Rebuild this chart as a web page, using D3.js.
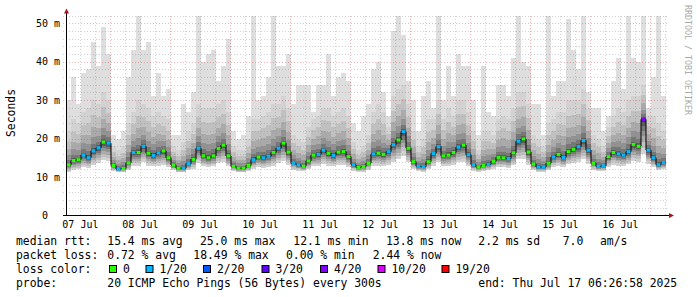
<!DOCTYPE html>
<meta charset="utf-8">
<style>
body { margin: 0; background: #fff; }
svg { display: block; font-family: "DejaVu Sans Mono", monospace; }
.legend text { font-size: 11.4px; fill: #000; }
</style>
<body>
<svg id="chart" width="697" height="297"></svg>
<script src="https://cdn.jsdelivr.net/npm/d3@7/dist/d3.min.js"></script>
<script>
// 2 hour bins over the last 10 days, ending Thu Jul 17 06:26:58 2025
var med = [13.2,14.3,14.5,15.7,15.0,16.8,17.6,19.1,18.8,13.0,
  12.1,12.2,13.7,16.4,16.4,18.0,16.2,15.6,16.3,16.8,
  15.0,13.1,12.3,12.3,13.5,14.6,17.5,15.5,15.0,15.5,
  17.4,18.3,15.5,12.8,12.3,12.3,13.0,14.5,15.2,15.0,
  15.4,16.4,17.5,18.8,16.5,13.6,13.2,12.8,14.2,15.7,
  15.9,17.0,16.2,15.6,16.5,16.6,15.3,13.2,12.5,12.7,
  13.6,16.0,16.2,15.9,16.6,18.4,19.6,21.8,17.5,14.0,
  12.8,12.7,14.0,16.1,17.9,15.5,15.7,16.4,17.8,18.3,
  15.8,13.2,12.6,13.0,13.3,14.1,15.1,15.0,14.8,16.3,
  19.3,19.9,16.5,13.4,12.6,12.6,13.6,15.2,15.9,15.1,
  16.6,17.2,17.9,19.5,17.0,13.6,12.8,12.9,15.3,16.4,
  16.0,15.7,16.6,18.5,18.0,25.0,17.0,15.0,13.2,13.8];

// index into lossColors
var loss = [0,0,0,1,1,1,1,0,1,0, 1,0,0,1,0,1,0,1,1,0,
  0,0,0,1,1,0,1,0,0,0, 0,0,0,0,0,0,0,1,0,1,
  1,0,1,0,0,1,1,0,0,0, 1,1,0,1,0,0,0,1,0,0,
  0,1,0,0,1,1,0,1,0,0, 1,1,0,1,1,0,0,0,1,0,
  1,1,0,0,1,0,0,0,1,0, 1,0,0,0,1,1,0,1,0,1,
  0,0,1,1,1,0,1,1,0,0, 1,1,1,0,0,4,1,1,1,1];

// lowest ping of each bin
var lo = [11.3,11.8,12.0,12.6,12.4,13.2,13.6,14.4,14.2,11.6,
  11.2,11.2,11.8,13.0,13.0,13.8,13.0,12.8,13.0,13.2,
  12.6,11.8,11.2,11.2,11.8,12.2,13.6,12.8,12.6,12.8,
  13.6,14.0,12.8,11.6,11.2,11.2,11.6,12.2,12.6,12.4,
  12.6,13.0,13.6,14.2,13.2,11.9,11.7,11.5,12.0,12.8,
  12.9,13.4,13.0,12.8,13.2,13.2,12.6,11.7,11.3,11.4,
  11.9,13.0,13.0,12.9,13.2,14.0,14.6,15.6,13.8,12.1,
  11.5,11.4,12.1,13.0,13.8,12.8,12.9,13.2,13.8,14.0,
  12.9,11.7,11.3,11.6,11.8,12.2,12.6,12.6,12.4,13.1,
  14.6,14.8,13.2,11.9,11.3,11.3,11.8,12.7,13.0,12.6,
  13.3,13.6,13.9,14.6,13.5,11.9,11.5,11.5,12.7,13.2,
  13.0,12.9,13.3,14.2,14.0,16.0,13.5,12.6,11.8,12.0];

// upper edge of the dense smoke
var hi = [22,25,24,27,28,30,29,32,30,18,
  17,18,24,27,30,29,28,26,27,26,
  25,18,17,19,22,24,29,28,28,28,
  29,30,27,18,17,17,20,25,25,26,
  27,29,29,31,28,21,20,19,23,25,
  26,28,28,26,27,28,26,19,17,18,
  21,27,29,27,23,31,33,34,29,22,
  18,20,25,25,30,25,28,26,30,30,
  27,22,17,22,22,21,25,26,25,28,
  32,32,29,21,20,18,24,25,27,27,
  30,30,30,33,28,21,20,18,23,26,
  28,27,30,31,31,34,26,26,24,22];

// highest ping of each bin
var maxPing = [30,36,29,37,38,45,39,49,42,21,
  20,22,36,43,52,43,45,31,37,31,
  33,21,21,29,27,32,52,40,42,43,
  35,39,46,22,20,21,26,52,30,31,
  36,52,39,39,42,29,34,34,34,27,
  34,34,42,31,36,37,35,24,22,26,
  29,38,40,32,26,48,52,47,35,30,
  22,31,35,28,52,30,39,31,42,39,
  39,30,21,39,27,26,34,34,31,41,
  52,40,39,29,29,21,52,31,35,35,
  51,43,38,52,32,28,28,22,26,35,
  41,33,52,41,40,52,28,36,52,31];

var lossLabels = ["0", "1/20", "2/20", "3/20", "4/20", "10/20", "19/20"];
var lossColors = ["#26ff00", "#00b8ff", "#0059ff", "#5e00ff", "#7e00ff", "#dd00ff", "#ff0000"];
var yTicks = [0, 10, 20, 30, 40, 50];

var rttRow = [["median rtt:", 16], ["15.4 ms avg", 107.3], ["25.0 ms max", 200], ["12.1 ms min", 293.3],
  ["13.8 ms now", 386], ["2.2 ms sd", 478.3], ["7.0", 562.7], ["am/s", 600]];
var lossRow = [["packet loss:", 16], ["0.72 % avg", 107.3], ["18.49 % max", 193.3], ["0.00 % min", 286], ["2.44 % now", 372.7]];
var probeRow = [["probe:", 16], ["20 ICMP Echo Pings (56 Bytes) every 300s", 107.3], ["end: Thu Jul 17 06:26:58 2025", 478.3]];
var swatchX = [109.5, 146, 203.5, 262, 320.5, 378, 442];

var endTime = Date.UTC(2025, 6, 17, 6, 26, 58);
var startTime = endTime - 10 * 864e5;
var step = 2 * 3600e3;

var svg = d3.select("#chart");
var x = d3.scaleUtc().domain([startTime, endTime]).range([66, 666]);
var y = d3.scaleLinear().domain([0, 52]).range([215.5, 15.5]);

var bins = med.map(function(m, i) {
  return { t0: startTime + i * step, t1: startTime + (i + 1) * step,
    med: m, lo: lo[i], hi: hi[i], top: maxPing[i], loss: loss[i] };
});

// smoke: light spike up to the max ping, then denser shades toward the median
var smoke = svg.append("g").attr("shape-rendering", "crispEdges");
smoke.selectAll("rect.max").data(bins).enter().append("rect")
  .attr("x", function(d) { return x(d.t0); })
  .attr("width", function(d) { return x(d.t1) - x(d.t0); })
  .attr("y", function(d) { return y(d.top); })
  .attr("height", function(d) { return y(d.lo) - y(d.top); })
  .attr("fill", "#dedede");

var shades = ["#d2d2d2", "#c0c0c0", "#aaaaaa", "#929292", "#777777", "#5a5a5a", "#3c3c3c"];
shades.forEach(function(c, k) {
  var f = Math.pow((shades.length - k) / shades.length, 2.3);
  var g = Math.pow((shades.length - k) / shades.length, 1.3);
  smoke.selectAll(null).data(bins).enter().append("rect")
    .attr("x", function(d) { return x(d.t0); })
    .attr("width", function(d) { return x(d.t1) - x(d.t0); })
    .attr("y", function(d) { return y(d.med + (d.hi - d.med) * f); })
    .attr("height", function(d) { return y(d.med - (d.med - d.lo) * g) - y(d.med + (d.hi - d.med) * f); })
    .attr("fill", c);
});

// grid
var minorCol = "rgba(130,130,130,0.35)", majorCol = "rgba(210,70,70,0.4)";
var grid = svg.append("g").attr("shape-rendering", "crispEdges");
d3.range(2, 53, 2).forEach(function(v) {
  grid.append("line")
    .attr("x1", 63).attr("x2", 668)
    .attr("y1", Math.round(y(v)) + 0.5).attr("y2", Math.round(y(v)) + 0.5)
    .attr("stroke", v % 10 === 0 ? majorCol : minorCol)
    .attr("stroke-dasharray", "1,2");
});
d3.utcHour.every(6).range(new Date(startTime), new Date(endTime)).forEach(function(t) {
  var xx = Math.round(x(t)) + 0.5;
  grid.append("line")
    .attr("x1", xx).attr("x2", xx)
    .attr("y1", 15.5).attr("y2", 215)
    .attr("stroke", t.getUTCHours() === 0 ? majorCol : minorCol)
    .attr("stroke-dasharray", "1,2");
});

// median line, coloured by loss
var medLine = d3.line()
  .x(function(d) { return x(d.t); })
  .y(function(d) { return y(d.v); })
  .curve(d3.curveStepAfter);
var pts = bins.map(function(d) { return { t: d.t0, v: d.med }; });
pts.push({ t: endTime, v: med[med.length - 1] });
svg.append("path")
  .attr("d", medLine(pts))
  .attr("fill", "none")
  .attr("stroke", "#000")
  .attr("stroke-width", 1);
svg.append("g").selectAll("rect").data(bins).enter().append("rect")
  .attr("x", function(d) { return x(d.t0) + 0.5; })
  .attr("width", function(d) { return x(d.t1) - x(d.t0) - 1; })
  .attr("y", function(d) { return y(d.med) - 1.5; })
  .attr("height", 3)
  .attr("fill", function(d) { return lossColors[d.loss]; });

// axes
var yAxis = svg.append("g")
  .attr("transform", "translate(66.5,0)")
  .call(d3.axisLeft(y).tickValues(yTicks).tickSize(0).tickPadding(6)
    .tickFormat(function(d) { return d === 0 ? "0" : d + " m"; }));
yAxis.select(".domain").remove();
yAxis.selectAll("text").attr("font-family", "DejaVu Sans Mono").attr("font-size", 10)
  .attr("x", function(d) { return d === 0 ? -18.5 : -6.5; });

var noon = d3.utcDay.range(d3.utcDay.floor(new Date(startTime)), new Date(endTime))
  .map(function(d) { return new Date(+d + 12 * 3600e3); })
  .filter(function(d) { return +d < endTime; });
var xAxis = svg.append("g")
  .attr("transform", "translate(0,215.5)")
  .call(d3.axisBottom(x).tickValues(noon).tickSize(0).tickPadding(5)
    .tickFormat(d3.utcFormat("%d %b")));
xAxis.select(".domain").remove();
xAxis.selectAll("text").attr("font-family", "DejaVu Sans Mono").attr("font-size", 10);

svg.append("line").attr("x1", 66.5).attr("x2", 66.5).attr("y1", 12).attr("y2", 216)
  .attr("stroke", "#000");
svg.append("line").attr("x1", 63).attr("x2", 670).attr("y1", 215.5).attr("y2", 215.5)
  .attr("stroke", "#000");
svg.append("path").attr("d", "M64,13.5L66.5,8.5L69,13.5Z").attr("fill", "#a01818");
svg.append("path").attr("d", "M669,213L674,215.5L669,218Z").attr("fill", "#a01818");

svg.append("text")
  .attr("transform", "translate(15,113) rotate(-90)")
  .attr("text-anchor", "middle")
  .style("font-size", "11.4px")
  .text("Seconds");

svg.append("text")
  .attr("transform", "translate(685,5) rotate(90)")
  .style("font-size", "8.3px")
  .attr("fill", "#aaa")
  .text("RRDTOOL / TOBI OETIKER");

// legend
var legend = svg.append("g").attr("class", "legend");
function row(items, yy) {
  items.forEach(function(it) {
    legend.append("text").attr("x", it[1]).attr("y", yy).attr("xml:space", "preserve").text(it[0]);
  });
}
row(rttRow, 245.3);
row(lossRow, 259);
row([["loss color:", 16]], 272.8);
row(probeRow, 286.5);
lossLabels.forEach(function(l, i) {
  legend.append("rect").attr("x", swatchX[i]).attr("y", 265.5).attr("width", 7).attr("height", 7)
    .attr("fill", lossColors[i]).attr("stroke", "#000");
  legend.append("text").attr("x", swatchX[i] + 13.5).attr("y", 272.8).text(l);
});
</script>
</body>
